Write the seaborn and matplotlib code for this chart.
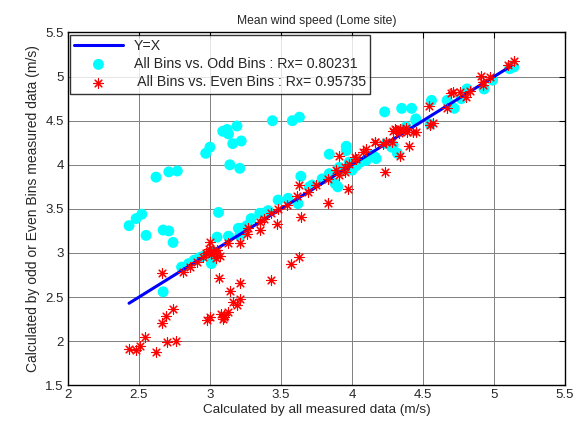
import matplotlib
matplotlib.use("Agg")
import matplotlib.pyplot as plt
import seaborn as sns
import pandas as pd
import numpy as np

odd_x = [2.43, 2.48, 2.52, 2.55, 2.62, 2.71, 2.77, 2.67, 2.71, 2.74, 2.67, 2.97, 3.00, 3.09, 3.12,
         3.13, 3.19, 3.16, 3.22, 3.14, 3.21, 3.44, 3.58, 3.63, 3.06, 3.05, 3.13, 3.20,
         2.80, 2.85, 2.89, 2.93, 2.96, 3.01, 3.02, 3.00,
         3.29, 3.35, 3.37, 3.41, 3.22, 3.26, 3.21,
         3.48, 3.55, 3.62, 3.64, 3.70, 3.72, 3.79, 3.84, 3.88, 3.91, 3.91, 3.90, 3.98, 4.00, 4.03,
         4.06, 4.10, 4.16, 4.14, 4.17, 4.24, 4.28, 4.32, 4.29, 4.38, 3.84, 3.96, 3.96,
         4.23, 4.35, 4.42, 4.45, 4.45, 4.56, 4.55, 4.67, 4.72, 4.77, 4.81, 4.93, 4.99, 5.11, 5.14, 5.12]
odd_y = [3.31, 3.39, 3.44, 3.20, 3.86, 3.92, 3.93, 3.26, 3.25, 3.12, 2.56, 4.13, 4.20, 4.38, 4.40,
         4.35, 4.44, 4.24, 4.27, 4.00, 3.96, 4.50, 4.50, 4.54, 3.46, 3.18, 3.19, 3.28,
         2.84, 2.88, 2.92, 2.95, 2.97, 2.88, 3.02, 2.99,
         3.39, 3.45, 3.45, 3.48, 3.28, 3.31, 3.20,
         3.60, 3.62, 3.56, 3.87, 3.75, 3.77, 3.84, 3.90, 3.79, 3.94, 3.97, 3.75, 4.03, 3.94, 3.99,
         4.03, 4.05, 4.09, 4.11, 4.07, 4.24, 4.20, 4.13, 4.22, 4.43, 4.12, 4.21, 4.16,
         4.60, 4.64, 4.64, 4.50, 4.52, 4.73, 4.46, 4.73, 4.64, 4.75, 4.86, 4.86, 4.96, 5.09, 5.11, 5.12]

even_x = [2.43, 2.48, 2.51, 2.54, 2.62, 2.66, 2.69, 2.74, 2.70, 2.76, 2.66, 2.98, 3.00, 3.06, 3.08,
          3.10, 3.13, 3.14, 3.16, 3.19, 3.21, 3.21, 3.43, 3.57, 3.63, 3.83, 3.64, 4.23, 4.34, 4.40,
          3.10, 3.09,
          2.81, 2.86, 2.91, 2.95, 2.99, 3.01, 3.04, 3.00, 3.13, 3.21, 3.26, 3.27, 3.35, 3.35, 3.38,
          3.43, 3.48, 3.47, 3.54, 3.61, 3.63, 3.69, 3.75, 3.83, 3.89, 3.91, 3.95, 3.97, 3.91, 3.95,
          4.03, 4.10, 4.16, 4.24, 4.30, 4.36, 4.43, 4.31, 4.34, 4.39, 4.45, 4.16, 4.22, 4.28, 4.08,
          4.02, 3.98, 4.54, 4.57, 4.55, 4.67, 4.71, 4.70, 4.76, 4.80, 4.83, 4.91, 4.92, 4.92, 4.97,
          5.10, 5.14, 2.99, 3.02, 2.97, 3.05, 4.33, 4.38, 4.29, 3.04, 3.07]
even_y = [1.91, 1.90, 1.94, 2.05, 1.88, 2.21, 2.28, 2.37, 1.99, 2.00, 2.77, 2.24, 2.27, 2.72, 2.31,
          2.27, 2.33, 2.57, 2.44, 2.41, 2.48, 2.66, 2.69, 2.87, 2.95, 3.57, 3.41, 3.92, 4.10, 4.21,
          2.30, 2.25,
          2.78, 2.84, 2.90, 2.95, 3.01, 2.99, 2.94, 3.12, 3.11, 3.11, 3.22, 3.28, 3.35, 3.26, 3.39,
          3.45, 3.50, 3.33, 3.54, 3.65, 3.77, 3.69, 3.77, 3.84, 3.94, 3.88, 3.92, 3.73, 4.10, 3.97,
          4.07, 4.18, 4.26, 4.26, 4.41, 4.39, 4.37, 4.39, 4.41, 4.37, 4.37, 4.26, 4.24, 4.26, 4.14,
          4.09, 4.01, 4.67, 4.47, 4.45, 4.64, 4.82, 4.81, 4.82, 4.77, 4.84, 5.01, 4.94, 4.90, 5.00,
          5.13, 5.18, 3.05, 3.02, 3.00, 3.03, 4.36, 4.42, 4.38, 3.00, 2.97]

line_x = [2.43, 5.12]

ticks = [2, 2.5, 3, 3.5, 4, 4.5, 5, 5.5]
yticks = [1.5, 2, 2.5, 3, 3.5, 4, 4.5, 5, 5.5]

sns.set_style("white")
plt.rcParams['font.family'] = ['Liberation Sans', 'DejaVu Sans']

fig = plt.figure(figsize=(5.83, 4.22), dpi=100)
ax = fig.add_axes([0.1166, 0.087, 0.8525, 0.836])

odd_df = pd.DataFrame({"x": odd_x, "y": odd_y})
even_df = pd.DataFrame({"x": even_x, "y": even_y})
line_df = pd.DataFrame({"x": line_x, "y": line_x})

sns.lineplot(data=line_df, x="x", y="y", ax=ax, color="#0000ff", linewidth=2.2,
             label="Y=X", zorder=3)
sns.scatterplot(data=odd_df, x="x", y="y", ax=ax, color="#00ffff", s=62, edgecolor="none",
                marker="o", label="All Bins vs. Odd Bins : Rx= 0.80231", zorder=2)
sns.scatterplot(data=even_df, x="x", y="y", ax=ax, color="#ff0000", s=48, marker=(8, 2, 0),
                linewidth=0.8, label=" All Bins vs. Even Bins : Rx= 0.95735", zorder=4)

ax.set_xlim(2, 5.5)
ax.set_ylim(1.5, 5.5)
ax.set_xticks(ticks)
ax.set_yticks(yticks)
ax.set_xticklabels([f"{t:g}" for t in ticks], fontsize=9.5)
ax.set_yticklabels([f"{t:g}" for t in yticks], fontsize=9.5)
ax.grid(True, color="#808080", linewidth=0.7, linestyle="-")
ax.tick_params(direction="in", top=True, right=True, length=4, width=0.8, color="black", pad=3)
for s in ax.spines.values():
    s.set_visible(True)
    s.set_color("black")
    s.set_linewidth(1.0)

ax.set_xlabel("Calculated by all measured data (m/s)", fontsize=9.7, labelpad=2)
ax.set_ylabel("Calculated by odd or Even Bins measured data (m/s)", fontsize=10, labelpad=4)
ax.set_title("Mean wind speed (Lome site)", fontsize=8.7, pad=6)

leg = ax.legend(loc="upper left", fontsize=10.2, frameon=True, fancybox=False,
                borderaxespad=0.15, handlelength=3.4, labelspacing=0.3, borderpad=0.3)
leg.get_frame().set_edgecolor("black")
leg.get_frame().set_linewidth(1.0)

fig.savefig("out.png", dpi=100)
